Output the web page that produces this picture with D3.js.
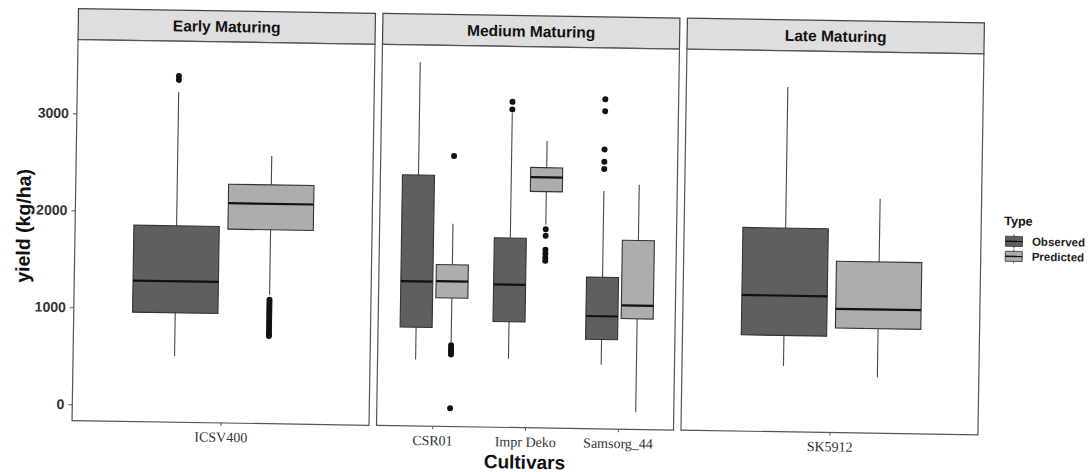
<!DOCTYPE html>
<html>
<head>
<meta charset="utf-8">
<script src="https://cdn.jsdelivr.net/npm/d3@7"></script>
<style>
  html, body { margin: 0; padding: 0; background: #fff; }
  svg { display: block; }
</style>
</head>
<body>
<svg id="chart" width="1088" height="472"></svg>
<script>
// Maturity groups (facets) and the cultivars that belong to each
const panels = ["Early Maturing", "Medium Maturing", "Late Maturing"];
const cultivars = ["ICSV400", "CSR01", "Impr Deko", "Samsorg_44", "SK5912"];
const cultivarPanel = ["Early Maturing", "Medium Maturing", "Medium Maturing", "Medium Maturing", "Late Maturing"];
const types = ["Observed", "Predicted"];
const yTicks = [0, 1000, 2000, 3000];

// Box statistics per cultivar, yield in kg/ha
const obsLower   = [513, 518, 541, 496, 509];
const obsQ1      = [959, 850, 921, 753, 824];
const obsMedian  = [1284, 1323, 1304, 993, 1235];
const obsQ3      = [1856, 2419, 1784, 1394, 1931];
const obsUpper   = [3236, 3580, 3070, 2285, 3386];
const obsOutliers = [[3400, 3360], [], [3188, 3110], [3230, 3107, 2713, 2586, 2511], []];

const predLower  = [1160, 700, 1926, 10, 405];
const predQ1     = [1830, 1157, 2268, 972, 909];
const predMedian = [2098, 1328, 2416, 1109, 1107];
const predQ3     = [2293, 1500, 2515, 1780, 1597];
const predUpper  = [2591, 1921, 2789, 2353, 2248];
const predOutliers = [
  [1110, 1085, 1060, 1035, 1010, 985, 960, 930, 900, 870, 840, 810, 780, 750, 735],
  [2620, 670, 640, 615, 590, 575, 20],
  [1880, 1813, 1669, 1628, 1587, 1556],
  [],
  []
];

// Assemble one record per box
const boxes = [];
cultivars.forEach((c, i) => {
  boxes.push({cultivar: c, panel: cultivarPanel[i], type: "Observed",
    lower: obsLower[i], q1: obsQ1[i], median: obsMedian[i], q3: obsQ3[i], upper: obsUpper[i], outliers: obsOutliers[i]});
  boxes.push({cultivar: c, panel: cultivarPanel[i], type: "Predicted",
    lower: predLower[i], q1: predQ1[i], median: predMedian[i], q3: predQ3[i], upper: predUpper[i], outliers: predOutliers[i]});
});

// Layout
const plotLeft = 75, panelW = 297, panelGap = 7.5;
const stripTop = 16, stripH = 31;
const panelTop = stripTop + stripH, panelBottom = 428;

const fillColor = d3.scaleOrdinal().domain(types).range(["#5f5f5f", "#adadad"]);

// y scale with 5% expansion around the data range
const allVals = boxes.flatMap(b => [b.lower, b.upper, ...b.outliers]);
const [ymin, ymax] = d3.extent(allVals);
const pad = (ymax - ymin) * 0.05;
const y = d3.scaleLinear().domain([ymin - pad, ymax + pad]).range([panelBottom, panelTop]);

const panelX = d3.scaleBand().domain(panels).range([plotLeft, plotLeft + 3 * panelW + 2 * panelGap])
  .paddingInner(panelGap / (panelW + panelGap));

const svg = d3.select("#chart");
const root = svg.append("g").attr("transform", "rotate(0.9, 544, 236)");

panels.forEach(p => {
  const x0 = panelX(p), w = panelX.bandwidth();
  const cats = cultivars.filter((c, i) => cultivarPanel[i] === p);
  const x = d3.scalePoint().domain(cats).range([x0, x0 + w]).padding(0.6);
  const step = x.step();
  const dodge = d3.scaleOrdinal().domain(types).range([-0.19 * step, 0.19 * step]);
  const boxW = 0.345 * step;

  const g = root.append("g");

  // strip
  g.append("rect").attr("x", x0).attr("y", stripTop).attr("width", w).attr("height", stripH)
    .attr("fill", "#dedede").attr("stroke", "#444").attr("stroke-width", 1.2);
  g.append("text").attr("x", x0 + w / 2).attr("y", stripTop + stripH / 2 + 5.5)
    .attr("text-anchor", "middle").attr("font-family", "Liberation Sans, Arial, sans-serif")
    .attr("font-weight", "bold").attr("font-size", 15.5).attr("fill", "#111").text(p);

  // panel background
  g.append("rect").attr("x", x0).attr("y", panelTop).attr("width", w).attr("height", panelBottom - panelTop)
    .attr("fill", "#fff");

  const pb = boxes.filter(b => b.panel === p);
  const bg = g.selectAll("g.box").data(pb).join("g").attr("class", "box")
    .attr("transform", d => `translate(${x(d.cultivar) + dodge(d.type)},0)`);

  // whiskers
  bg.append("line").attr("x1", 0).attr("x2", 0).attr("y1", d => y(d.q3)).attr("y2", d => y(d.upper))
    .attr("stroke", "#4a4a4a").attr("stroke-width", 1.1);
  bg.append("line").attr("x1", 0).attr("x2", 0).attr("y1", d => y(d.q1)).attr("y2", d => y(d.lower))
    .attr("stroke", "#4a4a4a").attr("stroke-width", 1.1);

  // boxes
  bg.append("rect").attr("x", -boxW / 2).attr("width", boxW)
    .attr("y", d => y(d.q3)).attr("height", d => y(d.q1) - y(d.q3))
    .attr("fill", d => fillColor(d.type)).attr("stroke", "#333").attr("stroke-width", 1.1);

  // medians
  bg.append("line").attr("x1", -boxW / 2).attr("x2", boxW / 2)
    .attr("y1", d => y(d.median)).attr("y2", d => y(d.median))
    .attr("stroke", "#111").attr("stroke-width", 2.2);

  // outliers
  bg.selectAll("circle").data(d => d.outliers).join("circle")
    .attr("cx", 0).attr("cy", v => y(v)).attr("r", 3).attr("fill", "#111");

  // panel border
  g.append("rect").attr("x", x0).attr("y", panelTop).attr("width", w).attr("height", panelBottom - panelTop)
    .attr("fill", "none").attr("stroke", "#555").attr("stroke-width", 1.2);

  // x axis
  const xa = g.append("g").attr("transform", `translate(0,${panelBottom})`)
    .call(d3.axisBottom(x).tickSize(3).tickPadding(6));
  xa.select(".domain").remove();
  xa.selectAll(".tick line").attr("stroke", "#555");
  xa.selectAll("text").attr("font-family", "Liberation Serif, Times New Roman, serif")
    .attr("font-size", 14).attr("fill", "#333");
});

// y axis on the first panel
const ya = root.append("g").attr("transform", `translate(${plotLeft},0)`)
  .call(d3.axisLeft(y).tickValues(yTicks).tickFormat(d3.format("d")).tickSize(4).tickPadding(4));
ya.select(".domain").remove();
ya.selectAll(".tick line").attr("stroke", "#555");
ya.selectAll("text").attr("font-family", "Liberation Sans, Arial, sans-serif")
  .attr("font-weight", "bold").attr("font-size", 14).attr("fill", "#333");

// axis titles
root.append("text").attr("transform", "translate(30,234) rotate(-90)")
  .attr("text-anchor", "middle").attr("font-family", "Liberation Sans, Arial, sans-serif")
  .attr("font-weight", "bold").attr("font-size", 19.5).attr("fill", "#111").text("yield (kg/ha)");
root.append("text").attr("x", 528).attr("y", 469)
  .attr("text-anchor", "middle").attr("font-family", "Liberation Sans, Arial, sans-serif")
  .attr("font-weight", "bold").attr("font-size", 19).attr("fill", "#111").text("Cultivars");

// legend
const lg = root.append("g").attr("transform", "translate(1004,0)");
lg.append("text").attr("x", 0).attr("y", 218).attr("font-family", "Liberation Sans, Arial, sans-serif")
  .attr("font-weight", "bold").attr("font-size", 12.5).attr("fill", "#111").text("Type");
const items = lg.selectAll("g.item").data(types).join("g").attr("class", "item")
  .attr("transform", (d, i) => `translate(0,${234 + i * 15})`);
items.append("line").attr("x1", 10).attr("x2", 10).attr("y1", -7).attr("y2", 7)
  .attr("stroke", "#4a4a4a").attr("stroke-width", 1);
items.append("rect").attr("x", 1.5).attr("y", -5).attr("width", 17).attr("height", 10)
  .attr("fill", d => fillColor(d)).attr("stroke", "#333").attr("stroke-width", 0.8);
items.append("line").attr("x1", 1.5).attr("x2", 18.5).attr("y1", 0).attr("y2", 0)
  .attr("stroke", "#111").attr("stroke-width", 1.4);
items.append("text").attr("x", 28).attr("y", 4).attr("font-family", "Liberation Sans, Arial, sans-serif")
  .attr("font-weight", "bold").attr("font-size", 11.5).attr("fill", "#222").text(d => d);
</script>
</body>
</html>
